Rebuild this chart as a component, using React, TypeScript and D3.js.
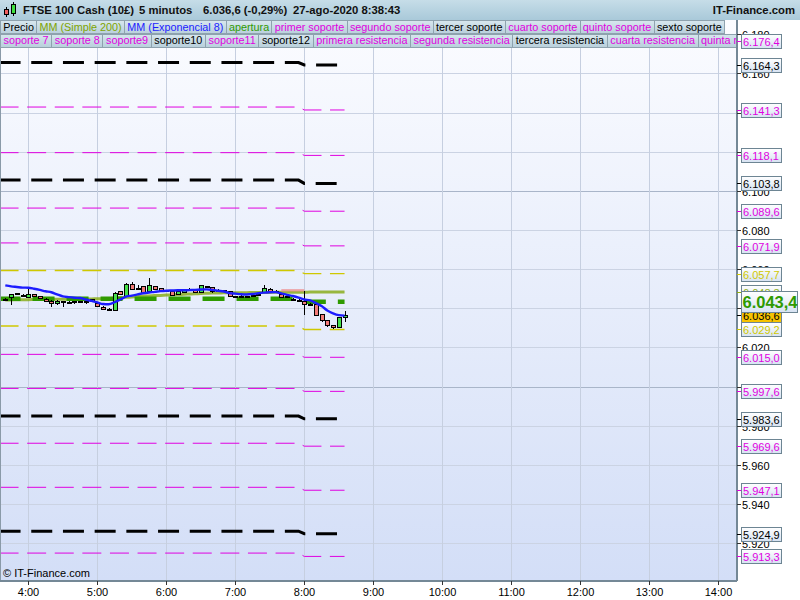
import React, { useEffect, useRef } from 'react';
import * as d3 from 'd3';

// ---- data ----
const sesionDia = [2020, 7, 27];
const horaPrimeraVela = [3, 40];

const aperturas = [
  6044.6, 6045.8, 6047.0, 6047.0, 6045.8, 6047.3, 6046.1, 6045.0, 6043.6, 6042.7,
  6043.6, 6043.2, 6043.6, 6043.7, 6043.6, 6043.7, 6042.7, 6040.8, 6039.8, 6039.3,
  6048.8, 6046.7, 6052.3, 6050.5, 6051.4, 6048.8, 6051.4, 6050.4, 6049.2, 6048.7,
  6047.2, 6048.8, 6049.7, 6049.2, 6048.0, 6051.4, 6050.9, 6049.4, 6049.3, 6048.7,
  6046.3, 6046.3, 6046.3, 6046.7, 6047.2, 6048.3, 6049.7, 6048.9, 6047.5, 6046.2,
  6045.0, 6044.1, 6043.6, 6042.4, 6042.4, 6036.9, 6033.9, 6031.3, 6030.3, 6035.6,
];
const maximos = [
  6045.5, 6047.4, 6047.9, 6047.3, 6050.8, 6047.5, 6046.3, 6045.4, 6044.0, 6044.0,
  6043.9, 6043.5, 6043.8, 6043.9, 6043.8, 6044.8, 6043.0, 6041.0, 6040.0, 6048.2,
  6049.0, 6052.8, 6053.4, 6051.8, 6051.6, 6055.5, 6051.6, 6050.6, 6049.6, 6049.0,
  6049.0, 6049.8, 6050.2, 6049.4, 6052.0, 6051.6, 6051.1, 6049.7, 6049.6, 6048.9,
  6046.5, 6046.6, 6046.5, 6046.9, 6047.4, 6051.8, 6050.4, 6049.2, 6047.8, 6046.4,
  6045.3, 6044.6, 6048.8, 6042.6, 6042.6, 6037.1, 6034.1, 6031.5, 6035.8, 6038.5,
];
const minimos = [
  6043.5, 6041.7, 6046.6, 6046.8, 6045.6, 6045.8, 6044.6, 6043.6, 6040.7, 6041.7,
  6040.7, 6042.8, 6042.4, 6043.3, 6042.4, 6043.5, 6040.8, 6039.6, 6039.1, 6039.1,
  6047.0, 6046.5, 6049.8, 6050.4, 6047.8, 6048.6, 6049.7, 6049.0, 6048.9, 6046.5,
  6047.0, 6048.6, 6049.5, 6047.8, 6047.8, 6051.2, 6048.0, 6049.1, 6049.0, 6046.1,
  6046.1, 6046.0, 6045.9, 6046.3, 6046.9, 6048.1, 6048.1, 6048.6, 6045.9, 6045.3,
  6044.7, 6043.4, 6036.4, 6042.2, 6036.6, 6033.0, 6030.5, 6029.3, 6030.1, 6033.0,
];
const cierres = [
  6045.0, 6047.2, 6047.7, 6047.0, 6047.5, 6046.1, 6045.0, 6043.8, 6042.4, 6043.7,
  6043.6, 6043.2, 6043.6, 6043.7, 6043.6, 6044.6, 6041.0, 6039.8, 6039.3, 6048.0,
  6047.2, 6052.6, 6050.0, 6050.5, 6048.0, 6052.1, 6049.9, 6049.2, 6049.2, 6046.7,
  6048.8, 6049.6, 6049.7, 6048.0, 6051.8, 6051.4, 6048.8, 6049.4, 6049.3, 6046.3,
  6046.3, 6046.3, 6046.3, 6046.7, 6047.2, 6050.5, 6048.3, 6048.9, 6046.1, 6045.6,
  6045.0, 6044.1, 6042.1, 6042.4, 6036.8, 6033.9, 6031.3, 6030.3, 6035.6, 6036.6,
];
const mmExp8 = [
  6051.7, 6051.2, 6050.9, 6050.6, 6050.5, 6050.0, 6049.4, 6048.7, 6048.2, 6047.1,
  6046.1, 6045.7, 6045.4, 6045.3, 6044.5, 6043.8, 6043.0, 6042.2, 6042.1, 6043.1,
  6044.5, 6046.0, 6046.5, 6047.1, 6047.7, 6048.1, 6048.4, 6048.8, 6049.0, 6049.1,
  6049.2, 6049.2, 6049.3, 6049.4, 6049.6, 6049.7, 6049.4, 6049.0, 6048.6, 6047.8,
  6047.5, 6047.2, 6047.1, 6047.3, 6047.7, 6048.0, 6048.2, 6048.3, 6047.6, 6046.9,
  6046.3, 6045.5, 6044.5, 6044.1, 6042.7, 6041.2, 6038.9, 6037.4, 6036.5, 6036.3,
];
const mmSimple200 = [
  6044.3, 6044.3, 6044.4, 6044.4, 6044.4, 6044.5, 6044.5, 6044.5, 6044.6, 6044.6,
  6044.6, 6044.7, 6044.7, 6044.7, 6044.8, 6044.8, 6044.9, 6044.9, 6045.0, 6045.2,
  6045.4, 6045.6, 6045.8, 6046.0, 6046.2, 6046.3, 6046.5, 6046.6, 6046.8, 6046.9,
  6047.0, 6047.2, 6047.3, 6047.4, 6047.6, 6047.7, 6047.8, 6047.8, 6047.9, 6047.9,
  6048.0, 6048.0, 6048.0, 6048.1, 6048.1, 6048.1, 6048.1, 6048.2, 6048.2, 6048.2,
  6048.2, 6048.2, 6048.2, 6048.3, 6048.3, 6048.3, 6048.3, 6048.3, 6048.3, 6048.3,
];

// levels: value after the 8:00 reset, value before it, and kind
const nivelesActual = [6176.4, 6164.3, 6141.3, 6118.1, 6103.8, 6089.6, 6071.9, 6057.7, 6029.2, 6015.0, 5997.6, 5983.6, 5969.6, 5947.1, 5924.9, 5913.3];
const nivelesPrevio = [6178.0, 6165.5, 6142.8, 6119.5, 6105.5, 6091.2, 6073.4, 6059.3, 6031.0, 6016.5, 5999.1, 5985.0, 5971.1, 5948.6, 5926.2, 5915.0];
const nivelesTipo = ['m', 'n', 'm', 'm', 'n', 'm', 'm', 'a', 'a', 'm', 'm', 'n', 'm', 'm', 'n', 'm'];
const aperturaNivel = [6044.9, 6043.4]; // before / after 8:00
const tramoRojo = [6049.2, 6049.2];
const horaCambio = [8, 0];

const ejeTicks = [5920, 5940, 5960, 5980, 6000, 6020, 6040, 6060, 6080, 6100, 6120, 6140, 6160, 6180];
const horasEje = [4, 5, 6, 7, 8, 9, 10, 11, 12, 13, 14];

const legendaFila1 = ['Precio', 'MM (Simple 200)', 'MM (Exponencial 8)', 'apertura', 'primer soporte', 'segundo soporte', 'tercer soporte', 'cuarto soporte', 'quinto soporte', 'sexto soporte'];
const legendaTipo1 = ['precio', 'mm200', 'ema', 'apertura', 'm', 'm', 'n', 'm', 'm', 'n'];
const legendaFila2 = ['soporte 7', 'soporte 8', 'soporte9', 'soporte10', 'soporte11', 'soporte12', 'primera resistencia', 'segunda resistencia', 'tercera resistencia', 'cuarta resistencia', 'quinta resistencia'];
const legendaTipo2 = ['m', 'm', 'm', 'n', 'm', 'n', 'm', 'm', 'n', 'm', 'm'];

const tituloPartes = ['FTSE 100 Cash (10£)', '5 minutos', '6.036,6 (-0,29%)', '27-ago-2020 8:38:43'];

const colores: Record<string, string> = {
  precio: '#000000',
  mm200: '#7ea400',
  ema: '#1c1cff',
  apertura: '#2f9a00',
  m: '#e000e0',
  n: '#000000',
  a: '#cfc800',
};

const FONT = '"Liberation Sans", Arial, sans-serif';
const PLOT_R = 736;
const PLOT_T = 20;
const PLOT_B = 580;

const es = d3.formatLocale({ decimal: ',', thousands: '.', grouping: [3], currency: ['', ''] });
const fmtEje = es.format(',.0f');
const fmtNivel = es.format(',.1f');

const App: React.FC = () => {
  const ref = useRef<SVGSVGElement>(null);

  useEffect(() => {
    const svg = d3.select(ref.current);
    svg.selectAll('*').remove();

    const dia = (h: number, m: number) => new Date(sesionDia[0], sesionDia[1], sesionDia[2], h, m);
    const t0 = dia(horaPrimeraVela[0], horaPrimeraVela[1]);
    const tiempos = d3.timeMinute.every(5)!.range(t0, d3.timeMinute.offset(t0, 5 * cierres.length));
    const tIni = d3.timeMinute.offset(t0, -5);
    const tCambio = dia(horaCambio[0], horaCambio[1]);
    const tAntes = d3.timeMinute.offset(tCambio, -5);
    const tFin = tiempos[tiempos.length - 1];

    const x = d3.scaleTime().domain([dia(4, 0), dia(14, 0)]).range([28.3, 718.3]);
    const y = d3.scaleLinear().domain([5920, 6180]).range([543.3, 34.2]);

    const defs = svg.append('defs');
    const grad = (id: string, stops: [number, string][]) => {
      const g = defs.append('linearGradient').attr('id', id).attr('x1', 0).attr('y1', 0).attr('x2', 0).attr('y2', 1);
      stops.forEach(([o, c]) => g.append('stop').attr('offset', o).attr('stop-color', c));
    };
    grad('fondoPlot', [[0, '#fbfcff'], [1, '#d3def7']]);
    grad('fondoCab', [[0, '#c6dde8'], [1, '#a9c9d9']]);
    grad('fondoLeyenda', [[0, '#d8e7ee'], [1, '#b9d0dc']]);
    grad('fondoEtiqueta', [[0, '#ffffff'], [1, '#d6e2f2']]);
    defs.append('clipPath').attr('id', 'clipPlot').append('rect')
      .attr('x', 0).attr('y', PLOT_T).attr('width', PLOT_R).attr('height', PLOT_B - PLOT_T);
    defs.append('clipPath').attr('id', 'clipLeyenda').append('rect')
      .attr('x', 0).attr('y', 0).attr('width', PLOT_R).attr('height', 60);

    svg.append('rect').attr('width', 800).attr('height', 600).attr('fill', '#ffffff');
    svg.append('rect').attr('x', 0).attr('y', PLOT_T).attr('width', PLOT_R).attr('height', PLOT_B - PLOT_T)
      .attr('fill', 'url(#fondoPlot)');

    // grid
    const grid = svg.append('g').attr('shape-rendering', 'crispEdges');
    grid.selectAll('line.h').data(ejeTicks).enter().append('line')
      .attr('x1', 0).attr('x2', PLOT_R)
      .attr('y1', d => Math.round(y(d)) + 0.5).attr('y2', d => Math.round(y(d)) + 0.5)
      .attr('stroke', d => (d % 100 === 0 ? '#a9b5c9' : '#cbd3e3')).attr('stroke-width', 1);
    grid.selectAll('line.v').data(horasEje).enter().append('line')
      .attr('x1', d => Math.round(x(dia(d, 0))) + 0.5).attr('x2', d => Math.round(x(dia(d, 0))) + 0.5)
      .attr('y1', PLOT_T).attr('y2', PLOT_B)
      .attr('stroke', '#c6cfe0').attr('stroke-width', 1);

    const plot = svg.append('g').attr('clip-path', 'url(#clipPlot)');

    // support / resistance levels
    const lineaNivel = d3.line<[Date, number]>().x(d => x(d[0])).y(d => y(d[1]));
    nivelesActual.forEach((v, i) => {
      const tipo = nivelesTipo[i];
      const pts: [Date, number][] = [[tIni, nivelesPrevio[i]], [tAntes, nivelesPrevio[i]], [tCambio, v], [tFin, v]];
      plot.append('path').attr('d', lineaNivel(pts)!).attr('fill', 'none')
        .attr('stroke', colores[tipo])
        .attr('stroke-width', tipo === 'n' ? 3 : tipo === 'a' ? 1.4 : 1)
        .attr('stroke-dasharray', tipo === 'n' ? '21,10.7' : '19,8.6');
    });

    // MM simple 200
    const lineaSerie = d3.line<number>().x((_, i) => x(tiempos[i])).y(d => y(d)).curve(d3.curveMonotoneX);
    plot.append('path').attr('d', lineaSerie(mmSimple200)!).attr('fill', 'none')
      .attr('stroke', colores.mm200).attr('stroke-opacity', 0.75).attr('stroke-width', 3);

    plot.append('path')
      .attr('d', lineaNivel([[d3.timeMinute.offset(tAntes, -15), tramoRojo[0]], [tCambio, tramoRojo[1]]])!)
      .attr('stroke', '#f08a8a').attr('stroke-opacity', 0.7).attr('stroke-width', 2.5).attr('fill', 'none');

    // apertura
    plot.append('path')
      .attr('d', lineaNivel([[tIni, aperturaNivel[0]], [tAntes, aperturaNivel[0]], [tCambio, aperturaNivel[1]], [tFin, aperturaNivel[1]]])!)
      .attr('fill', 'none').attr('stroke', colores.apertura).attr('stroke-width', 4.5)
      .attr('stroke-dasharray', '22,12').attr('stroke-dashoffset', 1);

    // candles
    const velas = plot.append('g').attr('shape-rendering', 'crispEdges');
    cierres.forEach((c, i) => {
      const cx = Math.round(x(tiempos[i])) + 0.5;
      const o = aperturas[i];
      velas.append('line').attr('x1', cx).attr('x2', cx)
        .attr('y1', y(maximos[i])).attr('y2', y(minimos[i])).attr('stroke', '#000');
      const top = y(Math.max(o, c));
      const bot = y(Math.min(o, c));
      if (bot - top < 1.2) {
        velas.append('line').attr('x1', cx - 2.5).attr('x2', cx + 2.5)
          .attr('y1', Math.round(top) + 0.5).attr('y2', Math.round(top) + 0.5)
          .attr('stroke', '#000').attr('stroke-width', 2);
      } else {
        velas.append('rect').attr('x', cx - 2).attr('width', 4)
          .attr('y', Math.round(top) + 0.5).attr('height', Math.max(1, Math.round(bot - top)))
          .attr('fill', c >= o ? '#46e04a' : '#f27b78').attr('stroke', '#000').attr('stroke-width', 1);
      }
    });

    // MM exponencial 8
    plot.append('path').attr('d', lineaSerie(mmExp8)!).attr('fill', 'none')
      .attr('stroke', colores.ema).attr('stroke-width', 2.4);

    // copyright
    svg.append('text').attr('x', 3).attr('y', 577).attr('font-family', FONT).attr('font-size', 11)
      .attr('fill', '#000').text('© IT-Finance.com');

    // axes
    svg.append('rect').attr('x', PLOT_R).attr('y', PLOT_T).attr('width', 800 - PLOT_R).attr('height', 600 - PLOT_T).attr('fill', '#ffffff');
    svg.append('rect').attr('x', 0).attr('y', PLOT_B).attr('width', 800).attr('height', 20).attr('fill', '#ffffff');
    const ejes = svg.append('g').attr('shape-rendering', 'crispEdges');
    ejes.append('line').attr('x1', PLOT_R + 0.5).attr('x2', PLOT_R + 0.5).attr('y1', PLOT_T).attr('y2', PLOT_B + 1).attr('stroke', '#748896').attr('stroke-width', 2);
    ejes.append('line').attr('x1', 0).attr('x2', PLOT_R + 1).attr('y1', PLOT_B + 0.5).attr('y2', PLOT_B + 0.5).attr('stroke', '#748896').attr('stroke-width', 2);
    ejes.append('line').attr('x1', 0.5).attr('x2', 0.5).attr('y1', PLOT_T).attr('y2', PLOT_B).attr('stroke', '#8a9aa8');

    horasEje.forEach(h => {
      const hx = Math.round(x(dia(h, 0))) + 0.5;
      ejes.append('line').attr('x1', hx).attr('x2', hx).attr('y1', PLOT_B + 1).attr('y2', PLOT_B + 5).attr('stroke', '#333');
      svg.append('text').attr('x', hx).attr('y', 596).attr('text-anchor', 'middle')
        .attr('font-family', FONT).attr('font-size', 11).attr('fill', '#000')
        .text(d3.timeFormat('%-H:%M')(dia(h, 0)));
    });

    ejeTicks.forEach(v => {
      const ty = Math.round(y(v)) + 0.5;
      ejes.append('line').attr('x1', PLOT_R + 1).attr('x2', PLOT_R + 5).attr('y1', ty).attr('y2', ty).attr('stroke', '#333');
      svg.append('text').attr('x', 742).attr('y', ty + 4).attr('font-family', FONT).attr('font-size', 11)
        .attr('fill', '#000').text(fmtEje(v));
    });

    const etiqueta = (v: number, color: string, fondo: string) => {
      const ty = Math.round(y(v));
      ejes.append('line').attr('x1', PLOT_R + 1).attr('x2', 741).attr('y1', ty + 0.5).attr('y2', ty + 0.5).attr('stroke', color);
      svg.append('rect').attr('x', 741.5).attr('y', ty - 6.5).attr('width', 40).attr('height', 14)
        .attr('fill', fondo).attr('stroke', '#6d8593').attr('shape-rendering', 'crispEdges');
      svg.append('text').attr('x', 743).attr('y', ty + 4.5).attr('font-family', FONT).attr('font-size', 11)
        .attr('fill', color).text(fmtNivel(v));
    };
    nivelesActual.forEach((v, i) => etiqueta(v, colores[nivelesTipo[i]], 'url(#fondoEtiqueta)'));
    etiqueta(mmSimple200[mmSimple200.length - 1], '#8fae10', 'url(#fondoEtiqueta)');
    etiqueta(cierres[cierres.length - 1], '#000', '#f7c300');

    // apertura big label
    const ay = Math.round(y(aperturaNivel[1]));
    svg.append('rect').attr('x', 741.5).attr('y', ay - 10.5).attr('width', 56).attr('height', 21)
      .attr('fill', 'url(#fondoEtiqueta)').attr('stroke', '#6d8593').attr('shape-rendering', 'crispEdges');
    svg.append('text').attr('x', 742.5).attr('y', ay + 6).attr('font-family', FONT).attr('font-size', 16.5)
      .attr('font-weight', 'bold').attr('fill', colores.apertura).text(fmtNivel(aperturaNivel[1]));

    // header
    svg.append('rect').attr('x', 0).attr('y', 0).attr('width', 800).attr('height', 20).attr('fill', 'url(#fondoCab)');
    const icono = svg.append('g').attr('shape-rendering', 'crispEdges');
    icono.append('line').attr('x1', 6.5).attr('x2', 6.5).attr('y1', 7).attr('y2', 17).attr('stroke', '#000');
    icono.append('rect').attr('x', 4.5).attr('y', 9.5).attr('width', 4).attr('height', 5).attr('fill', '#f06060').attr('stroke', '#000');
    icono.append('line').attr('x1', 13.5).attr('x2', 13.5).attr('y1', 2).attr('y2', 16).attr('stroke', '#000');
    icono.append('rect').attr('x', 11.5).attr('y', 4.5).attr('width', 4).attr('height', 9).attr('fill', '#40e040').attr('stroke', '#000');
    const posTitulo = [23, 139, 203, 293];
    tituloPartes.forEach((s, i) => {
      svg.append('text').attr('x', posTitulo[i]).attr('y', 14).attr('font-family', FONT).attr('font-size', 11.3)
        .attr('font-weight', 'bold').attr('fill', '#111').text(s);
    });
    svg.append('text').attr('x', 795).attr('y', 14).attr('text-anchor', 'end').attr('font-family', FONT)
      .attr('font-size', 11.3).attr('font-weight', 'bold').attr('fill', '#111').text('IT-Finance.com');

    // legend
    const leyenda = svg.append('g').attr('clip-path', 'url(#clipLeyenda)');
    const filaLeyenda = (nombres: string[], tipos: string[], y0: number, pad: number) => {
      let cx = 0.5;
      nombres.forEach((n, i) => {
        const g = leyenda.append('g');
        const txt = g.append('text').attr('x', cx + pad / 2).attr('y', y0 + 10.5).attr('font-family', FONT)
          .attr('font-size', 10.8).attr('fill', colores[tipos[i]]).text(n);
        const w = (txt.node() as SVGTextElement).getComputedTextLength() + pad;
        g.insert('rect', 'text').attr('x', cx).attr('y', y0 + 0.5).attr('width', w).attr('height', 13)
          .attr('fill', 'url(#fondoLeyenda)').attr('stroke', '#8ea2ae').attr('shape-rendering', 'crispEdges');
        cx += w;
      });
    };
    filaLeyenda(legendaFila1, legendaTipo1, 20, 5.6);
    filaLeyenda(legendaFila2, legendaTipo2, 33.5, 6.2);
  }, []);

  return (
    <svg ref={ref} width={800} height={600} style={{ position: 'fixed', left: 0, top: 0, display: 'block' }} />
  );
};

export default App;
